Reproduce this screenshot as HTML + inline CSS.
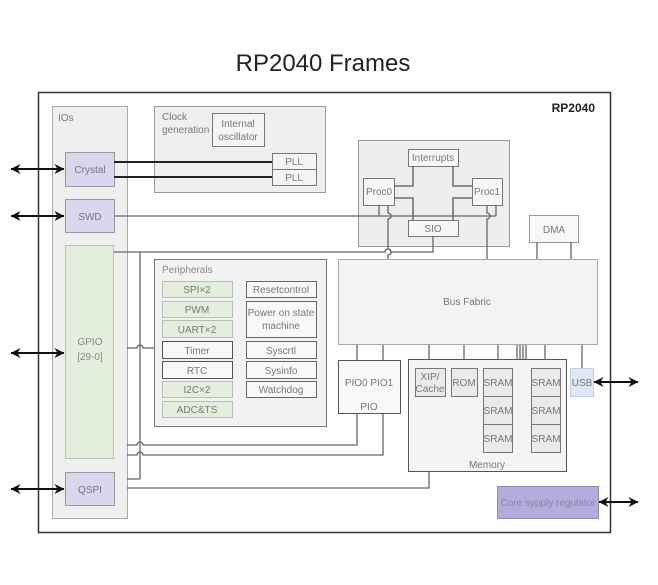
<!DOCTYPE html>
<html><head><meta charset="utf-8"><style>
html,body{margin:0;padding:0;background:#fff;}
svg{display:block;}
text{font-family:"Liberation Sans",sans-serif;}
</style></head><body>
<svg width="658" height="585" viewBox="0 0 658 585" xmlns="http://www.w3.org/2000/svg">
<defs>
<marker id="ah" viewBox="0 0 10 10" refX="9.5" refY="5" markerWidth="10" markerHeight="10" orient="auto-start-reverse" markerUnits="userSpaceOnUse">
<path d="M0,0 L10,5 L0,10 L3,5 Z" fill="#111"/>
</marker>
</defs>
<rect width="658" height="585" fill="#fff"/>
<text x="323" y="71" font-size="24" text-anchor="middle" fill="#222">RP2040 Frames</text>

<!-- main frame -->
<rect x="38.5" y="92.5" width="572" height="440" fill="#fff" stroke="#333" stroke-width="1.5"/>
<text x="595" y="112" font-size="12" font-weight="bold" text-anchor="end" fill="#222">RP2040</text>

<!-- IOs panel -->
<rect x="52.5" y="106.5" width="75" height="412" fill="#efefef" stroke="#aaa"/>
<text x="58" y="121" font-size="10" fill="#777">IOs</text>
<rect x="65.5" y="152.5" width="49" height="34" fill="#d9d6ee" stroke="#999"/>
<text x="90" y="173" font-size="10" fill="#777" text-anchor="middle">Crystal</text>
<rect x="65.5" y="199.5" width="49" height="33" fill="#d9d6ee" stroke="#999"/>
<text x="90" y="220" font-size="10" fill="#777" text-anchor="middle">SWD</text>
<rect x="65.5" y="245.5" width="48" height="213" fill="#e3efdc" stroke="#b5c5ad"/>
<text x="90" y="345" font-size="10" fill="#888" text-anchor="middle">GPIO</text>
<text x="90" y="360" font-size="10" fill="#888" text-anchor="middle">[29-0]</text>
<rect x="65.5" y="472.5" width="49" height="33" fill="#d9d6ee" stroke="#999"/>
<text x="90" y="493" font-size="10" fill="#777" text-anchor="middle">QSPI</text>

<!-- external arrows -->
<g stroke="#111" stroke-width="2" fill="none">
<line x1="11" y1="169" x2="64" y2="169" marker-start="url(#ah)" marker-end="url(#ah)"/>
<line x1="11" y1="216" x2="64" y2="216" marker-start="url(#ah)" marker-end="url(#ah)"/>
<line x1="11" y1="353" x2="64" y2="353" marker-start="url(#ah)" marker-end="url(#ah)"/>
<line x1="11" y1="489" x2="64" y2="489" marker-start="url(#ah)" marker-end="url(#ah)"/>
<line x1="594" y1="382" x2="638" y2="382" marker-start="url(#ah)" marker-end="url(#ah)"/>
<line x1="599" y1="502" x2="638" y2="502" marker-start="url(#ah)" marker-end="url(#ah)"/>
</g>

<!-- Clock generation -->
<rect x="154.5" y="106.5" width="171" height="86" fill="#efefef" stroke="#999"/>
<text x="162" y="120" font-size="10" fill="#777">Clock</text>
<text x="162" y="133" font-size="10" fill="#777">generation</text>
<rect x="212.5" y="113.5" width="52" height="33" fill="#f4f4f4" stroke="#777"/>
<text x="238" y="127" font-size="10" fill="#777" text-anchor="middle">Internal</text>
<text x="238" y="140" font-size="10" fill="#777" text-anchor="middle">oscillator</text>
<rect x="272.5" y="153.5" width="44" height="16" fill="#f4f4f4" stroke="#777"/>
<text x="294" y="165" font-size="10" fill="#777" text-anchor="middle">PLL</text>
<rect x="272.5" y="169.5" width="44" height="16" fill="#f4f4f4" stroke="#777"/>
<text x="294" y="181" font-size="10" fill="#777" text-anchor="middle">PLL</text>
<g stroke="#222" stroke-width="2">
<line x1="114" y1="162" x2="272" y2="162"/>
<line x1="114" y1="177" x2="272" y2="177"/>
</g>

<!-- Processor panel -->
<rect x="358.5" y="140.5" width="151" height="106" fill="#eeeeee" stroke="#999"/>
<rect x="408.5" y="149.5" width="50" height="17" fill="#f6f6f6" stroke="#777"/>
<text x="433" y="161" font-size="10" fill="#777" text-anchor="middle">Interrupts</text>
<rect x="363.5" y="178.5" width="31" height="27" fill="#f6f6f6" stroke="#777"/>
<text x="379" y="195" font-size="10" fill="#777" text-anchor="middle">Proc0</text>
<rect x="472.5" y="178.5" width="30" height="27" fill="#f6f6f6" stroke="#777"/>
<text x="487" y="195" font-size="10" fill="#777" text-anchor="middle">Proc1</text>
<rect x="408.5" y="220.5" width="50" height="16" fill="#f6f6f6" stroke="#777"/>
<text x="433" y="232" font-size="10" fill="#777" text-anchor="middle">SIO</text>
<g stroke="#555" stroke-width="1.3" fill="none">
<polyline points="413,166 413,186 394,186"/>
<polyline points="453,166 453,186 472,186"/>
<polyline points="394,198 413,198 413,220"/>
<polyline points="472,198 453,198 453,220"/>
</g>

<!-- DMA -->
<rect x="529.5" y="215.5" width="49" height="27" fill="#f8f8f8" stroke="#999"/>
<text x="554" y="233" font-size="10" fill="#777" text-anchor="middle">DMA</text>

<!-- connection lines (gray) -->
<g stroke="#666" stroke-width="1.3" fill="none">
<path d="M114,216 H496"/>
<line x1="379" y1="205" x2="379" y2="216"/>
<line x1="496" y1="205" x2="496" y2="216"/>
<path d="M388,205 V213 A3,3 0 0 1 388,219 V249 A3,3 0 0 1 388,255 V259"/>
<path d="M487,205 V213 A3,3 0 0 1 487,219 V259"/>
<path d="M433,236 V252 H391 A3,3 0 0 0 385,252 H114"/>
<line x1="140" y1="252" x2="140" y2="479"/>
<line x1="127" y1="479" x2="140" y2="479"/>
<line x1="537" y1="242" x2="537" y2="259"/>
<line x1="571" y1="242" x2="571" y2="259"/>
<path d="M127,348 H137 A3,3 0 0 1 143,348 H154"/>
<path d="M357,413 V445 H143 A3,3 0 0 0 137,445 H127"/>
<path d="M383,413 V455 H143 A3,3 0 0 0 137,455 H127"/>
<path d="M127,488 H429 V471"/>
<line x1="357" y1="344" x2="357" y2="360"/>
<line x1="383" y1="344" x2="383" y2="360"/>
<line x1="429" y1="344" x2="429" y2="359"/>
<line x1="464" y1="344" x2="464" y2="359"/>
<line x1="498" y1="344" x2="498" y2="359"/>
<line x1="517" y1="344" x2="517" y2="359"/>
<line x1="520" y1="344" x2="520" y2="359"/>
<line x1="523" y1="344" x2="523" y2="359"/>
<line x1="526" y1="344" x2="526" y2="359"/>
<line x1="545" y1="344" x2="545" y2="359"/>
<line x1="582" y1="344" x2="582" y2="368"/>
</g>

<!-- Peripherals -->
<rect x="154.5" y="259.5" width="172" height="167" fill="#f2f2f2" stroke="#777"/>
<text x="162" y="273" font-size="10" fill="#888">Peripherals</text>
<g font-size="10" fill="#777" text-anchor="middle">
<rect x="162.5" y="281.5" width="70" height="16" fill="#e3efdc" stroke="#bbb"/>
<text x="197" y="293">SPI×2</text>
<rect x="162.5" y="301.5" width="70" height="16" fill="#e3efdc" stroke="#bbb"/>
<text x="197" y="313">PWM</text>
<rect x="162.5" y="320.5" width="70" height="17" fill="#e3efdc" stroke="#bbb"/>
<text x="197" y="333">UART×2</text>
<rect x="162.5" y="341.5" width="70" height="17" fill="#f8f8f8" stroke="#555"/>
<text x="197" y="354">Timer</text>
<rect x="162.5" y="361.5" width="70" height="17" fill="#f8f8f8" stroke="#555"/>
<text x="197" y="374">RTC</text>
<rect x="162.5" y="381.5" width="70" height="16" fill="#e3efdc" stroke="#bbb"/>
<text x="197" y="393">I2C×2</text>
<rect x="162.5" y="401.5" width="70" height="16" fill="#e3efdc" stroke="#bbb"/>
<text x="197" y="413">ADC&amp;TS</text>

<rect x="246.5" y="281.5" width="70" height="16" fill="#f8f8f8" stroke="#666"/>
<text x="281" y="293">Resetcontrol</text>
<rect x="246.5" y="301.5" width="70" height="36" fill="#f8f8f8" stroke="#666"/>
<text x="281" y="316">Power on state</text>
<text x="281" y="329">machine</text>
<rect x="246.5" y="341.5" width="70" height="17" fill="#f8f8f8" stroke="#666"/>
<text x="281" y="354">Syscrtl</text>
<rect x="246.5" y="361.5" width="70" height="17" fill="#f8f8f8" stroke="#666"/>
<text x="281" y="374">Sysinfo</text>
<rect x="246.5" y="381.5" width="70" height="16" fill="#f8f8f8" stroke="#666"/>
<text x="281" y="393">Watchdog</text>
</g>

<!-- Bus Fabric -->
<rect x="338.5" y="259.5" width="259" height="85" fill="#f3f3f3" stroke="#aaa"/>
<text x="467" y="305" font-size="10" fill="#777" text-anchor="middle">Bus Fabric</text>

<!-- PIO -->
<rect x="338.5" y="360.5" width="62" height="53" fill="#f8f8f8" stroke="#555"/>
<text x="369" y="386" font-size="10" fill="#777" text-anchor="middle">PIO0  PIO1</text>
<text x="369" y="410" font-size="10" fill="#777" text-anchor="middle">PIO</text>

<!-- Memory -->
<rect x="408.5" y="359.5" width="158" height="112" fill="#f4f4f4" stroke="#555"/>
<text x="487" y="468" font-size="10" fill="#777" text-anchor="middle">Memory</text>
<g font-size="10" fill="#777" text-anchor="middle">
<rect x="415.5" y="368.5" width="30" height="28" fill="#eaeaea" stroke="#777"/>
<text x="430" y="380">XIP/</text>
<text x="430" y="392">Cache</text>
<rect x="451.5" y="368.5" width="26" height="28" fill="#eaeaea" stroke="#777"/>
<text x="464" y="386">ROM</text>
<rect x="483.5" y="368.5" width="29" height="28" fill="#eaeaea" stroke="#777"/>
<text x="498" y="386">SRAM</text>
<rect x="483.5" y="396.5" width="29" height="28" fill="#eaeaea" stroke="#777"/>
<text x="498" y="414">SRAM</text>
<rect x="483.5" y="424.5" width="29" height="28" fill="#eaeaea" stroke="#777"/>
<text x="498" y="442">SRAM</text>
<rect x="531.5" y="368.5" width="29" height="28" fill="#eaeaea" stroke="#777"/>
<text x="546" y="386">SRAM</text>
<rect x="531.5" y="396.5" width="29" height="28" fill="#eaeaea" stroke="#777"/>
<text x="546" y="414">SRAM</text>
<rect x="531.5" y="424.5" width="29" height="28" fill="#eaeaea" stroke="#777"/>
<text x="546" y="442">SRAM</text>
</g>

<!-- USB -->
<rect x="570.5" y="368.5" width="23" height="28" fill="#dfe6f6" stroke="#c5cde0"/>
<text x="582" y="386" font-size="10" fill="#777" text-anchor="middle">USB</text>

<!-- Core supply regulator -->
<rect x="497.5" y="486.5" width="101" height="32" fill="#b5acdd" stroke="#8f88b5"/>
<text x="548" y="506" font-size="10" fill="#8a83a8" text-anchor="middle">Core sypply regulator</text>
</svg>
</body></html>
